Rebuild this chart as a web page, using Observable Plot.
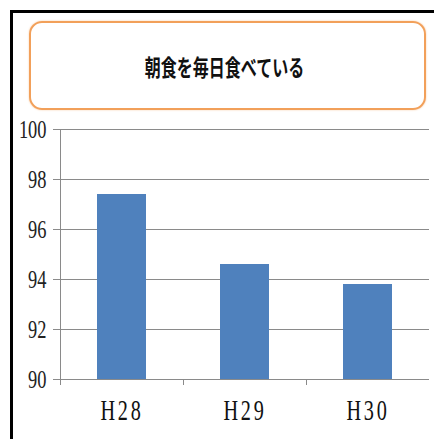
<!DOCTYPE html>
<html><head><meta charset="utf-8">
<script src="https://cdn.jsdelivr.net/npm/d3@7"></script>
<script src="https://cdn.jsdelivr.net/npm/@observablehq/plot@0.6"></script>
<style>
html,body{margin:0;padding:0;background:#fff;}
#wrap{position:relative;width:434px;height:439px;overflow:hidden;}
#frame{position:absolute;left:10px;top:10px;width:440px;height:440px;border-top:3px solid #000;border-left:3px solid #000;}
#title{position:absolute;left:29px;top:21px;width:393px;height:85px;border:2px solid #f2a05a;border-radius:13px;display:flex;align-items:center;justify-content:center;box-shadow:0 0 2px #f6c9a0;}
#title span{font-family:"Noto Sans CJK JP",sans-serif;font-weight:bold;font-size:16px;color:#111;display:inline-block;transform:scale(1,1.4);margin-left:-6px;}
#chart{position:absolute;left:0;top:0;}
#chart svg text{font-family:"Liberation Serif","DejaVu Serif",serif !important;}
</style></head>
<body><div id="wrap"><div id="frame"></div><div id="title"><span>朝食を毎日食べている</span></div><div id="chart"></div></div>
<script>
const categories = ["H28", "H29", "H30"];
const values = [97.4, 94.6, 93.8];
const yTicks = [90, 92, 94, 96, 98, 100];

const W = 434, H = 439, mL = 60, mR = 5, mT = 129, mB = 60;
const step = (W - mL - mR) / categories.length;
const data = categories.map((c, i) => ({c, v: values[i]}));
const grey = "#8a8a8a";
const serif = "Liberation Serif";

const chart = Plot.plot({
  width: W, height: H,
  marginLeft: mL, marginRight: mR, marginTop: mT, marginBottom: mB,
  style: {fontSize: "19px", color: "#222", background: "transparent"},
  x: {domain: categories, paddingInner: 0.6, paddingOuter: 0.3, label: null},
  y: {domain: [90, 100], label: null},
  marks: [
    Plot.gridY(yTicks, {stroke: grey, strokeOpacity: 1, strokeWidth: 1}),
    Plot.barY(data, {x: "c", y1: 90, y2: "v", fill: "#4f81bd"}),
    Plot.ruleX([categories[0]], {x: d => d, dx: -step / 2, y1: 100, y2: 90, insetBottom: -6, stroke: grey}),
    Plot.ruleX(categories.slice(1), {x: d => d, dx: -step / 2, y1: 90, y2: 90, insetBottom: -6, stroke: grey}),
    Plot.axisY(yTicks, {tickSize: 7, tickPadding: 7, stroke: grey, tickFormat: d => String(d), fill: "#222", fontFamily: serif, fontSize: 20}),
    Plot.axisX({tickSize: 0, tickPadding: 20, fill: "#111", fontSize: 22, fontFamily: serif})
  ]
});
chart.querySelectorAll("text").forEach(t => {
  const tr = t.getAttribute("transform") || "";
  t.setAttribute("transform", tr + " scale(0.92,1.3)");
  t.style.fontFamily = "'Liberation Serif', 'DejaVu Serif', serif";
  if (categories.includes(t.textContent)) t.style.letterSpacing = "3px";
});
document.getElementById("chart").appendChild(chart);
</script></body></html>
